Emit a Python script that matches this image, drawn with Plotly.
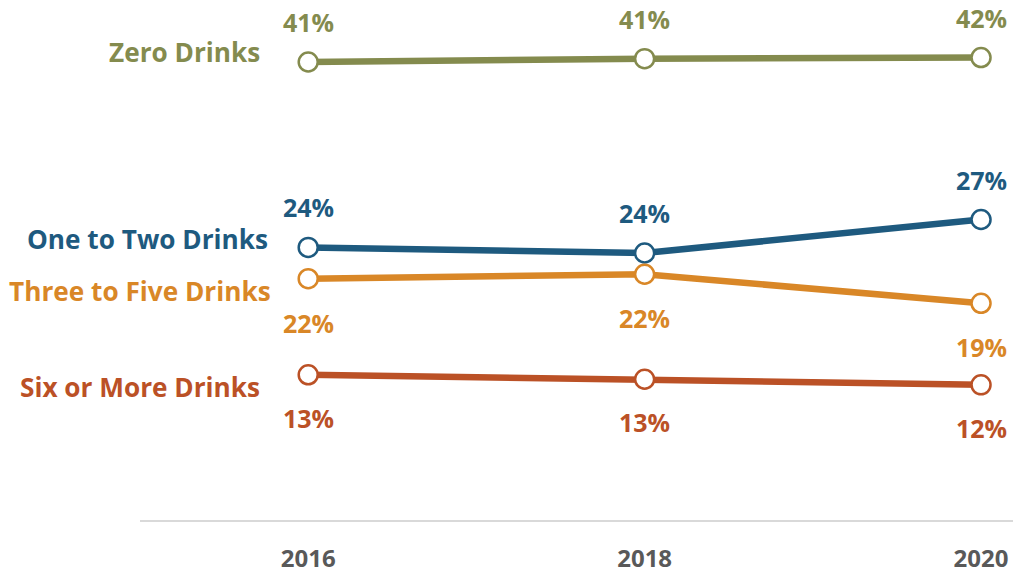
import plotly.graph_objects as go

years = [2016, 2018, 2020]
year_labels = ["2016", "2018", "2020"]

series_names = ["Zero Drinks", "One to Two Drinks", "Three to Five Drinks", "Six or More Drinks"]
zero = [41.0, 41.3, 41.4]
one_two = [24.4, 23.9, 26.9]
three_five = [21.6, 22.0, 19.4]
six_more = [13.0, 12.6, 12.1]
zero_labels = ["41%", "41%", "42%"]
one_two_labels = ["24%", "24%", "27%"]
three_five_labels = ["22%", "22%", "19%"]
six_more_labels = ["13%", "13%", "12%"]

colors = ["#848b4e", "#1e5a7f", "#d98727", "#bb5126"]
values = [zero, one_two, three_five, six_more]
labels = [zero_labels, one_two_labels, three_five_labels, six_more_labels]
label_shift = [40, 40, -44, -43]
name_xshift = [-46, -38, -35, -46]
name_yshift = [10, 8, -12, -12]

FONT = "Open Sans"

fig = go.Figure()
annotations = []
for name, vals, labs, col, ls, nx, ny in zip(series_names, values, labels, colors,
                                              label_shift, name_xshift, name_yshift):
    fig.add_trace(go.Scatter(
        x=years, y=vals, mode="lines+markers", name=name,
        line=dict(color=col, width=6.5),
        marker=dict(size=19, color="white", line=dict(color=col, width=2.5)),
        cliponaxis=False, hoverinfo="skip",
    ))
    for xv, yv, t in zip(years, vals, labs):
        annotations.append(dict(
            x=xv, y=yv, text=t, showarrow=False, yshift=ls,
            xanchor="center", yanchor="middle",
            font=dict(family=FONT, size=25, color=col, weight="bold"),
        ))
    annotations.append(dict(
        x=years[0], y=vals[0], text=name, showarrow=False,
        xanchor="right", yanchor="middle", xshift=nx, yshift=ny,
        font=dict(family=FONT, size=26.2, color=col, weight="bold"),
    ))

fig.update_layout(
    width=1013, height=573,
    margin=dict(l=140, r=0, t=0, b=53, autoexpand=False),
    paper_bgcolor="white", plot_bgcolor="white",
    showlegend=False,
    annotations=annotations,
    xaxis=dict(
        range=[2015.0, 2020.19], showgrid=False, zeroline=False,
        showline=True, linecolor="#d9d9d9", linewidth=2,
        tickvals=years, ticktext=year_labels, ticks="",
        ticklabelstandoff=16, automargin=False,
        tickfont=dict(family=FONT, size=24, color="#595959", weight="bold"),
    ),
    yaxis=dict(range=[0, 46.55], visible=False, showgrid=False, zeroline=False,
               automargin=False),
)

fig.write_html("out.html")
